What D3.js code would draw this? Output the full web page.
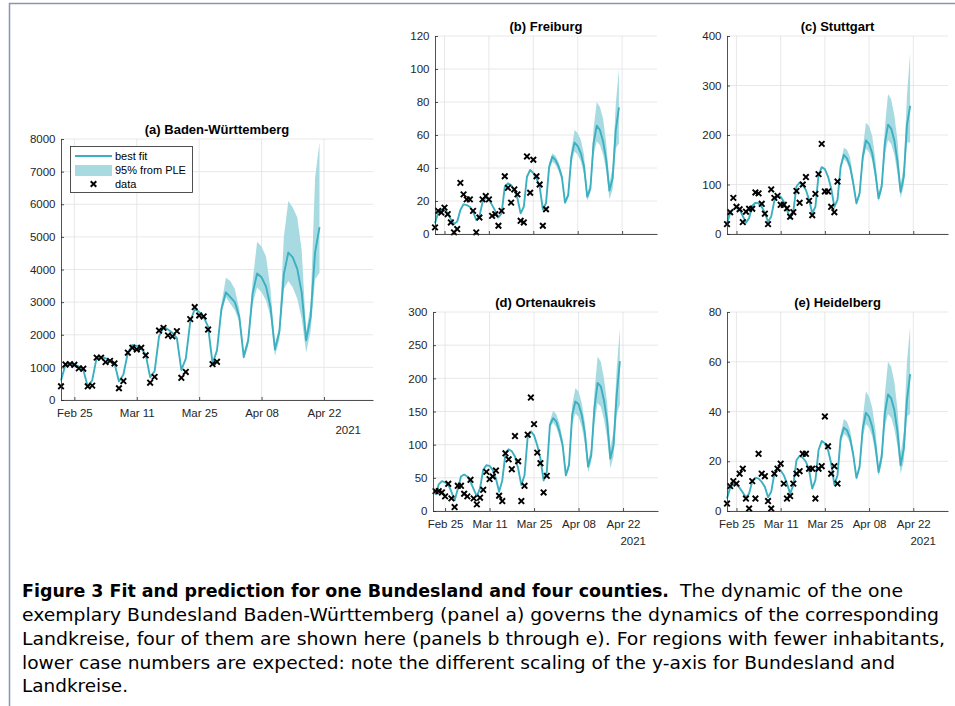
<!DOCTYPE html>
<html>
<head>
<meta charset="utf-8">
<script src="https://cdn.jsdelivr.net/npm/d3@7"></script>
<style>
  body { margin: 0; background: #fff; }
  svg { display: block; }
</style>
</head>
<body>
<div id="figure"></div>
<script>
// Day 0 is Mon Feb 22 2021, one value per day.
var startDate = new Date(2021, 1, 22);
var lastDay = 70;
var bandStartDay = 34;

var tickDates = ["2021-02-25", "2021-03-11", "2021-03-25", "2021-04-08", "2021-04-22"];
var yearLabel = "2021";

// (a) Baden-Württemberg
var bwTicks = [0, 1000, 2000, 3000, 4000, 5000, 6000, 7000, 8000];
var bwData = [420, 1090, 1100, 1080, 970, 960, 420, 440, 1300, 1300, 1160, 1200, 1120, 360, 580,
  1450, 1600, 1550, 1600, 1370, 530, 710, 2130, 2210, 1980, 1950, 2110, 680, 860,
  2480, 2850, 2590, 2560, 2160, 1100, 1170];
var bwFit = [600, 1080, 1110, 1080, 1030, 930, 410, 600, 1300, 1330, 1280, 1210, 1130, 570, 780,
  1450, 1690, 1660, 1570, 1400, 700, 880, 1950, 2240, 2160, 2060, 1900, 920, 1270,
  2400, 2790, 2700, 2550, 2250, 1120, 1520, 2800, 3300, 3150, 3000, 2550, 1320, 1830,
  3270, 3880, 3760, 3480, 2850, 1550, 2100, 3860, 4520, 4370, 4020, 3300, 1830, 2540, 4520, 5300];
var bwLow = [1090, 1450, 2650, 3150, 2950, 2750, 2400, 1250, 1650, 2950, 3450, 3300, 3050, 2550,
  1350, 1850, 3400, 3650, 3450, 3100, 2500, 1450, 2100, 3700, 3900];
var bwHigh = [1160, 1580, 2950, 3750, 3650, 3400, 2800, 1450, 1950, 3650, 4850, 4700, 4400, 3400,
  1700, 2250, 5000, 6100, 5900, 5600, 4600, 2100, 2900, 6800, 7900];

// (b) Freiburg
var frTicks = [0, 20, 40, 60, 80, 100, 120];
var frData = [4, 14, 13, 16, 12, 7, 1, 3, 31, 24, 21, 21, 14, 1, 10, 21, 23, 21, 11, 12, 5, 14,
  35, 28, 19, 27, 24, 8, 7, 47, 25, 45, 35, 30, 5, 15];
var frFit = [6.5, 13, 14.5, 15, 12.5, 9, 6, 7.5, 14.5, 18, 17.5, 16.5, 13.5, 8.5, 10.5, 19.5, 22,
  21, 17.5, 14, 10, 12.5, 28.5, 30.7, 29.7, 26.7, 21.6, 12.5, 16.5, 34.7, 38.8, 37, 33.7, 28.7,
  15, 18.6, 40.8, 46.9, 44.8, 40.8, 34.7, 19, 23.6, 46.9, 55.4, 53.3, 48.9, 40.8, 22.6, 27.7,
  55, 65.7, 63, 56, 44.8, 26.3, 33.7, 63, 76.8];
var frLow = [14, 18, 38.5, 44, 42, 38, 32, 18, 22, 43, 50, 48, 44, 36, 20, 25, 48, 56, 54, 48, 38,
  21, 27, 52, 55];
var frHigh = [15.5, 19.5, 43, 49, 47.5, 43.5, 37, 20.5, 25.5, 51, 63, 61, 57, 48, 25, 31, 64, 80,
  77, 70, 55, 31, 40, 79, 100];

// (c) Stuttgart
var stTicks = [0, 100, 200, 300, 400];
var stData = [20, 44, 73, 55, 50, 24, 45, 51, 51, 84, 82, 61, 41, 20, 90, 73, 77, 59, 59, 52, 35,
  44, 87, 63, 100, 115, 67, 38, 81, 121, 182, 86, 86, 55, 44, 106];
var stFit = [21.5, 42, 50, 54, 50, 36, 23, 32, 57, 63, 62, 55, 42, 25, 35, 67, 77, 75, 65, 48, 32,
  45, 96, 104, 99, 89, 69, 42, 55, 119, 135, 131, 116, 92, 55, 69, 136, 160, 153, 136, 102, 62,
  82, 156, 189, 182, 163, 123, 72, 96, 183, 221, 213, 189, 146, 85, 116, 220, 259];
var stLow = [53, 66, 130, 152, 144, 127, 95, 58, 76, 143, 172, 165, 148, 110, 65, 87, 160, 190,
  182, 160, 122, 72, 98, 185, 185];
var stHigh = [57, 72, 142, 174, 170, 155, 112, 67, 88, 172, 225, 218, 198, 150, 82, 108, 215, 283,
  272, 240, 190, 100, 140, 280, 365];

// (d) Ortenaukreis
var orTicks = [0, 50, 100, 150, 200, 250, 300];
var orData = [30, 30, 28, 22, 41, 19, 6, 38, 38, 26, 22, 47, 19, 10, 20, 32, 59, 48, 52, 61, 23,
  15, 87, 78, 63, 113, 75, 15, 38, 115, 171, 131, 88, 72, 28, 53];
var orFit = [24, 40, 45, 43, 40, 29, 16, 33, 52, 55, 52, 44, 33, 22, 34, 62, 69, 68, 62, 49, 29,
  46, 87, 93, 90, 82, 64, 39, 54, 112, 120, 114, 99, 79, 46, 59, 130, 140, 135, 120, 99, 54, 69,
  145, 165, 161, 145, 117, 67, 84, 155, 193, 188, 167, 135, 79, 99, 175, 226];
var orLow = [44, 57, 126, 133, 126, 111, 92, 50, 64, 132, 147, 142, 127, 101, 58, 74, 133, 163,
  157, 138, 110, 64, 82, 145, 160];
var orHigh = [48, 62, 136, 151, 146, 132, 108, 58, 75, 160, 185, 180, 163, 133, 76, 96, 180, 233,
  225, 200, 163, 95, 120, 215, 275];

// (e) Heidelberg
var hdTicks = [0, 20, 40, 60, 80];
var hdData = [3, 10, 12, 11, 15, 17, 5, 1, 12, 5, 23, 15, 14, 4, 1, 15, 17, 19, 11, 5, 6, 11, 15,
  16, 23, 23, 17, 17, 5, 17, 18, 38, 26, 15, 18, 11];
var hdFit = [5, 9.3, 11, 10.6, 9.3, 7.4, 5.4, 7, 12, 13.4, 13, 11.7, 9.7, 5.5, 7.7, 15, 17, 16.3,
  14.4, 11, 7, 10.4, 20.4, 22.2, 21.4, 19.8, 16.4, 9, 12.4, 24.5, 28.1, 27.2, 24.5, 19.1, 10.6,
  14.4, 29.2, 33.5, 32.5, 29.2, 22.5, 13.3, 17.7, 33.2, 39.5, 37.9, 33.9, 26.5, 15.7, 21.8, 39.3,
  46.9, 45.3, 40.6, 31.9, 18.4, 25.1, 44.6, 55];
var hdLow = [10.2, 13.9, 27.5, 31, 30, 27, 21, 12.5, 16.5, 30, 35, 33.5, 30, 23, 14, 19, 34, 39,
  37.5, 33, 26, 15, 20, 38, 39];
var hdHigh = [11, 15, 31, 37, 36, 32.5, 24.5, 14.5, 19.5, 37.5, 48, 46, 41.5, 33, 18, 25, 47, 60,
  58, 52, 41, 23, 32, 60, 74];

var legendLabels = ["best fit", "95% from PLE", "data"];

var captionBold = "Figure 3 Fit and prediction for one Bundesland and four counties.";
var captionLines = [
  "The dynamic of the one",
  "exemplary Bundesland Baden-Württemberg (panel a) governs the dynamics of the corresponding",
  "Landkreise, four of them are shown here (panels b through e). For regions with fewer inhabitants,",
  "lower case numbers are expected: note the different scaling of the y-axis for Bundesland and",
  "Landkreise."
];

(function() {
  "use strict";

  var W = 955, H = 706;
  var lineColor = "#3cafc0";
  var bandColor = "#a8dbe1";
  var axisColor = "#262626";
  var gridColor = "#e2e2e2";
  var tickFont = "'Liberation Sans', Arial, sans-serif";
  var tickSize = "11.5px";

  var parseDate = d3.timeParse("%Y-%m-%d");
  var tickValues = tickDates.map(parseDate);
  var fmt = d3.timeFormat("%b %d");

  function dateAt(d) {
    return new Date(startDate.getTime() + d * 864e5);
  }

  var panels = [
    { title: "(a) Baden-Württemberg", data: bwData, fit: bwFit, low: bwLow, high: bwHigh,
      ticks: bwTicks, x0: 61, x1: 373, y0: 139, y1: 400, dayMin: 0, xLabels: true, legend: true },
    { title: "(b) Freiburg", data: frData, fit: frFit, low: frLow, high: frHigh,
      ticks: frTicks, x0: 435, x1: 657, y0: 36, y1: 234, dayMin: 0, xLabels: false },
    { title: "(c) Stuttgart", data: stData, fit: stFit, low: stLow, high: stHigh,
      ticks: stTicks, x0: 727, x1: 948, y0: 36, y1: 234, dayMin: 0, xLabels: false },
    { title: "(d) Ortenaukreis", data: orData, fit: orFit, low: orLow, high: orHigh,
      ticks: orTicks, x0: 433, x1: 658, y0: 312, y1: 511, dayMin: -0.8, xLabels: true },
    { title: "(e) Heidelberg", data: hdData, fit: hdFit, low: hdLow, high: hdHigh,
      ticks: hdTicks, x0: 727, x1: 948, y0: 312, y1: 511, dayMin: 0, xLabels: true }
  ];

  var svg = d3.select("#figure")
    .append("svg")
    .attr("width", W)
    .attr("height", H);

  svg.append("rect")
    .attr("width", W)
    .attr("height", H)
    .attr("fill", "#fff");

  // page frame (top and left only)
  svg.append("path")
    .attr("d", "M" + W + ",3.5H9.5V" + H)
    .attr("fill", "none")
    .attr("stroke", "#8298b2")
    .attr("stroke-width", 1.5);

  var cross = d3.symbol(d3.symbolX).size(22);

  function drawPanel(p) {
    var x = d3.scaleTime()
      .domain([dateAt(p.dayMin), dateAt(lastDay)])
      .range([p.x0, p.x1]);
    var y = d3.scaleLinear()
      .domain([p.ticks[0], p.ticks[p.ticks.length - 1]])
      .range([p.y1, p.y0]);

    var g = svg.append("g");

    /* ------- GRID -------*/
    g.append("g")
      .selectAll("line")
      .data(p.ticks)
      .enter()
      .append("line")
      .attr("x1", p.x0)
      .attr("x2", p.x1)
      .attr("y1", function(d) { return y(d); })
      .attr("y2", function(d) { return y(d); })
      .attr("stroke", gridColor)
      .attr("stroke-width", 0.8);

    g.append("g")
      .selectAll("line")
      .data(tickValues)
      .enter()
      .append("line")
      .attr("x1", function(d) { return x(d); })
      .attr("x2", function(d) { return x(d); })
      .attr("y1", p.y0)
      .attr("y2", p.y1)
      .attr("stroke", gridColor)
      .attr("stroke-width", 0.8);

    /* ------- BAND, FIT, DATA -------*/
    var area = d3.area()
      .x(function(d, i) { return x(dateAt(bandStartDay + i)); })
      .y0(function(d) { return y(d[0]); })
      .y1(function(d) { return y(d[1]); });

    g.append("path")
      .datum(p.low.map(function(v, i) { return [v, p.high[i]]; }))
      .attr("d", area)
      .attr("fill", bandColor);

    var line = d3.line()
      .x(function(d, i) { return x(dateAt(i)); })
      .y(function(d) { return y(d); });

    g.append("path")
      .datum(p.fit)
      .attr("d", line)
      .attr("fill", "none")
      .attr("stroke", lineColor)
      .attr("stroke-width", 1.9)
      .attr("stroke-linejoin", "round");

    g.append("g")
      .selectAll("path")
      .data(p.data)
      .enter()
      .append("path")
      .attr("d", cross)
      .attr("transform", function(d, i) {
        return "translate(" + x(dateAt(i)) + "," + y(d) + ")";
      })
      .attr("fill", "none")
      .attr("stroke", "#000")
      .attr("stroke-width", 1.9);

    /* ------- AXES -------*/
    var yAxis = d3.axisLeft(y)
      .tickValues(p.ticks)
      .tickSize(-3)
      .tickSizeOuter(0)
      .tickPadding(5.5)
      .tickFormat(d3.format("d"));

    var xAxis = d3.axisBottom(x)
      .tickValues(tickValues)
      .tickSize(-3)
      .tickSizeOuter(0)
      .tickPadding(8.5)
      .tickFormat(function(d) { return p.xLabels ? fmt(d) : ""; });

    var ya = g.append("g")
      .attr("transform", "translate(" + p.x0 + ",0)")
      .call(yAxis);
    var xa = g.append("g")
      .attr("transform", "translate(0," + p.y1 + ")")
      .call(xAxis);

    [ya, xa].forEach(function(a) {
      a.select(".domain").attr("stroke", axisColor).attr("stroke-width", 0.8);
      a.selectAll(".tick line").attr("stroke", axisColor).attr("stroke-width", 0.8);
      a.selectAll(".tick text")
        .attr("fill", axisColor)
        .style("font-family", tickFont)
        .style("font-size", tickSize);
    });

    if (p.xLabels) {
      g.append("text")
        .attr("x", p.x1 - 12)
        .attr("y", p.y1 + 34)
        .attr("text-anchor", "end")
        .attr("fill", axisColor)
        .style("font-family", tickFont)
        .style("font-size", tickSize)
        .text(yearLabel);
    }

    g.append("text")
      .attr("x", (p.x0 + p.x1) / 2)
      .attr("y", p.y0 - 5)
      .attr("text-anchor", "middle")
      .attr("fill", "#000")
      .style("font-family", tickFont)
      .style("font-size", "13px")
      .style("font-weight", "bold")
      .text(p.title);

    if (p.legend) {
      drawLegend(g);
    }
  }

  /* ------- LEGEND (panel a) -------*/
  function drawLegend(g) {
    var lx = 70.5, ly = 146.5, lw = 122, lh = 46;
    var rowY = [156, 170.5, 184];
    var leg = g.append("g");

    leg.append("rect")
      .attr("x", lx)
      .attr("y", ly)
      .attr("width", lw)
      .attr("height", lh)
      .attr("fill", "#fff")
      .attr("stroke", axisColor)
      .attr("stroke-width", 0.8);

    leg.append("line")
      .attr("x1", 75).attr("x2", 112)
      .attr("y1", rowY[0]).attr("y2", rowY[0])
      .attr("stroke", lineColor)
      .attr("stroke-width", 1.9);

    leg.append("rect")
      .attr("x", 75).attr("y", rowY[1] - 5.5)
      .attr("width", 37).attr("height", 11)
      .attr("fill", bandColor);

    leg.append("path")
      .attr("d", cross)
      .attr("transform", "translate(93.5," + rowY[2] + ")")
      .attr("fill", "none")
      .attr("stroke", "#000")
      .attr("stroke-width", 1.9);

    leg.selectAll("text")
      .data(legendLabels)
      .enter()
      .append("text")
      .attr("x", 115)
      .attr("y", function(d, i) { return rowY[i]; })
      .attr("dy", "0.35em")
      .attr("fill", "#000")
      .style("font-family", tickFont)
      .style("font-size", "11px")
      .text(function(d) { return d; });
  }

  panels.forEach(drawPanel);

  /* ------- CAPTION -------*/
  var capFont = "'DejaVu Sans', sans-serif";
  var capY = [597, 621, 645, 668.5, 692];
  var capWidths = [223, 917, 923, 873, 106];
  var capX = [680, 22, 22, 22, 22];

  svg.append("text")
    .attr("x", 22)
    .attr("y", capY[0])
    .attr("textLength", 647)
    .attr("lengthAdjust", "spacingAndGlyphs")
    .attr("fill", "#000")
    .style("font-family", capFont)
    .style("font-size", "17px")
    .style("font-weight", "bold")
    .text(captionBold);

  svg.append("g")
    .selectAll("text")
    .data(captionLines)
    .enter()
    .append("text")
    .attr("x", function(d, i) { return capX[i]; })
    .attr("y", function(d, i) { return capY[i]; })
    .attr("textLength", function(d, i) { return capWidths[i]; })
    .attr("lengthAdjust", "spacingAndGlyphs")
    .attr("fill", "#000")
    .style("font-family", capFont)
    .style("font-size", "17px")
    .text(function(d) { return d; });
})();
</script>
</body>
</html>
